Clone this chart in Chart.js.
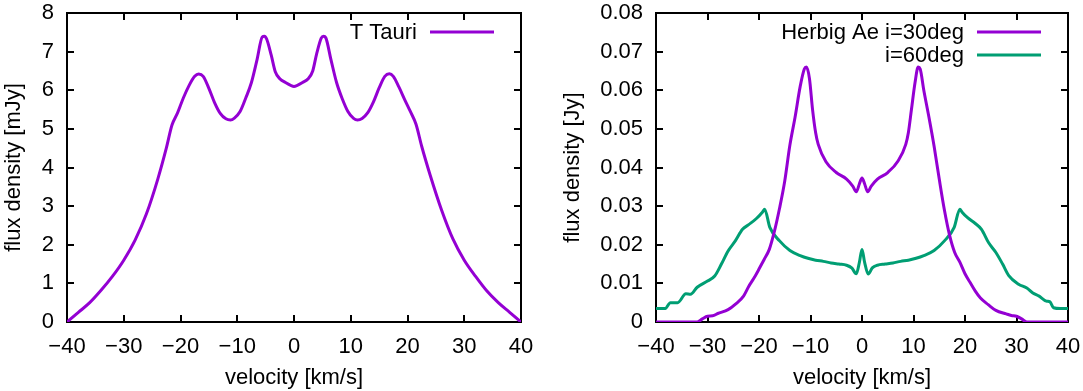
<!DOCTYPE html>
<html>
<head>
<meta charset="utf-8">
<script src="https://cdn.jsdelivr.net/npm/chart.js@4.4.0/dist/chart.umd.min.js"></script>
<style>
  html, body { margin: 0; padding: 0; background: #fff; }
  .row { display: flex; width: 1083px; height: 391px; }
  canvas { display: block; }
</style>
</head>
<body>
<div class="row">
  <canvas id="tTauriChart" width="540" height="391"></canvas>
  <canvas id="herbigChart" width="543" height="391"></canvas>
</div>
<script>
// velocity grid + flux values
const tTauriVel = [-40, -38, -36, -34, -32, -30, -28, -26, -24, -22.5, -21.5, -20.5, -19.5, -18.5, -17.5, -16.8, -16, -15, -14, -13, -12, -11.2, -10.5, -9.5, -8.5, -7.5, -6.5, -5.6, -5.2, -4.8, -4, -3.3, -2.5, -1.5, -0.5, 0,
  0.5, 1.5, 2.5, 3.3, 4, 4.8, 5.2, 5.6, 6.5, 7.5, 8.5, 9.5, 10.5, 11.2, 12, 13, 14, 15, 16, 16.8, 17.5, 18.5, 19.5, 20.5, 21.5, 22.5, 24, 26, 28, 30, 32, 34, 36, 38, 40];
const tTauriFlux = [0, 0.25, 0.5, 0.82, 1.18, 1.6, 2.12, 2.8, 3.7, 4.5, 5.1, 5.42, 5.8, 6.12, 6.36, 6.42, 6.36, 6.05, 5.68, 5.4, 5.26, 5.23, 5.28, 5.45, 5.8, 6.2, 6.8, 7.38, 7.4, 7.32, 6.9, 6.48, 6.3, 6.2, 6.12, 6.1,
  6.12, 6.2, 6.3, 6.5, 6.95, 7.35, 7.4, 7.36, 6.8, 6.2, 5.78, 5.45, 5.27, 5.23, 5.27, 5.42, 5.7, 6.06, 6.36, 6.43, 6.36, 6.08, 5.76, 5.45, 5.12, 4.55, 3.8, 2.9, 2.15, 1.6, 1.18, 0.8, 0.5, 0.25, 0];

const herbig30Vel = [-40, -35, -32, -31, -30, -29, -28, -26, -24.5, -23, -22, -21, -20, -19, -18, -17, -16, -15, -14, -13, -12, -11.2, -10.8, -10.2, -9.6, -9, -8.5, -7, -5, -3, -1.8, -1.1, -0.5, 0,
  0.5, 1.1, 1.8, 3, 5, 7, 8.5, 9, 9.6, 10.3, 10.9, 11.3, 12, 13, 14, 15, 16, 17, 18, 19, 20, 21, 22, 23, 24.5, 26, 28, 29, 30, 31, 32, 35, 40];
const herbig30Flux = [0, 0, 0, 0.0008, 0.0015, 0.0016, 0.0022, 0.0032, 0.0047, 0.0067, 0.0092, 0.0113, 0.0137, 0.0162, 0.0188, 0.0235, 0.0295, 0.0365, 0.0458, 0.053, 0.061, 0.0655, 0.066, 0.063, 0.055, 0.049, 0.046, 0.0415, 0.0387, 0.037, 0.0352, 0.0337, 0.0358, 0.0373,
  0.0358, 0.0337, 0.0352, 0.037, 0.0387, 0.0417, 0.046, 0.049, 0.055, 0.062, 0.066, 0.0655, 0.06, 0.053, 0.0455, 0.037, 0.029, 0.0225, 0.018, 0.0155, 0.0125, 0.0102, 0.008, 0.0062, 0.0045, 0.003, 0.0021, 0.0017, 0.0015, 0.0008, 0, 0, 0];

const herbig60Vel = [-40, -38.2, -37.2, -35.8, -34.2, -33.3, -32, -30, -28.6, -27.3, -26, -24.6, -23.2, -22, -20.5, -19.3, -18.9, -17.9, -16, -14, -12, -10.5, -9, -7.5, -6, -4.5, -3, -2, -1.1, -0.5, 0,
  0.5, 1.2, 2, 3, 4.5, 6, 7.5, 9, 10.5, 12, 14, 16, 17.9, 19, 19.4, 20.5, 22, 23.2, 24.6, 26, 27.3, 28.5, 30.4, 32, 33.1, 34.4, 35.8, 36.5, 37.2, 38.5, 40];
const herbig60Flux = [0.0035, 0.0035, 0.005, 0.005, 0.0073, 0.0072, 0.009, 0.0106, 0.0119, 0.015, 0.0184, 0.021, 0.024, 0.0252, 0.0268, 0.0285, 0.0292, 0.0245, 0.021, 0.0185, 0.0172, 0.0165, 0.016, 0.0157, 0.0153, 0.015, 0.0147, 0.014, 0.0125, 0.0155, 0.0188,
  0.0155, 0.0124, 0.014, 0.0147, 0.015, 0.0153, 0.0157, 0.016, 0.0165, 0.0172, 0.0185, 0.021, 0.0245, 0.0292, 0.0285, 0.027, 0.0255, 0.024, 0.0205, 0.018, 0.015, 0.012, 0.0098, 0.0088, 0.0076, 0.0067, 0.0054, 0.0052, 0.0037, 0.0035, 0.0035];

const velTicks = [-40, -30, -20, -10, 0, 10, 20, 30, 40];
const mJyTicks = [0, 1, 2, 3, 4, 5, 6, 7, 8];
const jyTicks = [0, 0.01, 0.02, 0.03, 0.04, 0.05, 0.06, 0.07, 0.08];
const jyTickLabels = ['0', '0.01', '0.02', '0.03', '0.04', '0.05', '0.06', '0.07', '0.08'];

const purple = '#9400d3';
const green = '#009e73';
const FONT = 'Liberation Sans, Arial, Helvetica, sans-serif';
const fontSize = 22;

function pts(xs, ys) {
  return xs.map((x, i) => ({x: x, y: ys[i]}));
}

// gnuplot style frame with inward ticks on all four sides
const framePlugin = {
  id: 'frame',
  beforeDatasetsDraw(chart) {
    const {ctx, chartArea: a, scales} = chart;
    const len = 7;
    ctx.save();
    ctx.strokeStyle = '#000';
    ctx.lineWidth = 2;
    ctx.beginPath();
    scales.x.ticks.forEach(t => {
      const px = Math.round(scales.x.getPixelForValue(t.value));
      ctx.moveTo(px, a.bottom); ctx.lineTo(px, a.bottom - len);
      ctx.moveTo(px, a.top); ctx.lineTo(px, a.top + len);
    });
    scales.y.ticks.forEach(t => {
      const py = Math.round(scales.y.getPixelForValue(t.value));
      ctx.moveTo(a.left, py); ctx.lineTo(a.left + len, py);
      ctx.moveTo(a.right, py); ctx.lineTo(a.right - len, py);
    });
    ctx.stroke();
    ctx.strokeRect(a.left, a.top, a.right - a.left, a.bottom - a.top);
    ctx.restore();
  }
};

// key: text on the left, line sample on the right (top right corner)
const keyPlugin = {
  id: 'key',
  afterDatasetsDraw(chart) {
    const {ctx, chartArea: a} = chart;
    ctx.save();
    ctx.font = fontSize + 'px ' + FONT;
    ctx.textAlign = 'right';
    ctx.textBaseline = 'middle';
    chart.data.datasets.forEach((ds, i) => {
      const y = a.top + 19 + i * 23;
      ctx.fillStyle = '#000';
      ctx.fillText(ds.label, a.right - 104, y + 1);
      ctx.strokeStyle = ds.borderColor;
      ctx.lineWidth = 3;
      ctx.beginPath();
      ctx.moveTo(a.right - 91, y);
      ctx.lineTo(a.right - 27, y);
      ctx.stroke();
    });
    ctx.restore();
  }
};

function minus(v) {
  return String(v).replace('-', '\u2212');
}

function makeChart(id, datasets, yMax, yTicks, yLabel, yFmt, yWidth, yTitlePad, rightPad) {
  const ctx = document.getElementById(id).getContext('2d');
  return new Chart(ctx, {
    type: 'line',
    data: {datasets: datasets},
    plugins: [framePlugin, keyPlugin],
    options: {
      responsive: false,
      animation: false,
      devicePixelRatio: 1,
      layout: {padding: {top: 13, right: rightPad, left: 0, bottom: 0}},
      plugins: {legend: {display: false}, tooltip: {enabled: false}},
      elements: {point: {radius: 0}},
      scales: {
        x: {
          type: 'linear',
          min: -40, max: 40,
          afterBuildTicks: s => { s.ticks = velTicks.map(v => ({value: v})); },
          afterFit: s => { s.height = 69; s.paddingLeft = 0; s.paddingRight = 0; },
          grid: {display: false, drawTicks: false},
          border: {display: false},
          ticks: {color: '#000', padding: 12, maxRotation: 0, font: {family: FONT, size: fontSize}, callback: v => minus(v)},
          title: {display: true, text: 'velocity [km/s]', color: '#000', padding: 0, font: {family: FONT, size: fontSize}}
        },
        y: {
          type: 'linear',
          min: 0, max: yMax,
          afterBuildTicks: s => { s.ticks = yTicks.map(v => ({value: v})); },
          afterFit: s => { s.width = yWidth; s.paddingTop = 0; s.paddingBottom = 0; },
          grid: {display: false, drawTicks: false},
          border: {display: false},
          ticks: {color: '#000', padding: 13, font: {family: FONT, size: fontSize}, callback: yFmt},
          title: {display: true, text: yLabel, color: '#000', padding: {top: yTitlePad, bottom: 0}, font: {family: FONT, size: fontSize}}
        }
      }
    }
  });
}

makeChart('tTauriChart', [{
  label: 'T Tauri',
  data: pts(tTauriVel, tTauriFlux),
  borderColor: purple,
  borderWidth: 3,
  cubicInterpolationMode: 'monotone',
  fill: false
}], 8, mJyTicks, 'flux density [mJy]', v => String(v), 67, 1, 19);

makeChart('herbigChart', [{
  label: 'Herbig Ae i=30deg',
  data: pts(herbig30Vel, herbig30Flux),
  borderColor: purple,
  borderWidth: 3,
  cubicInterpolationMode: 'monotone',
  fill: false
}, {
  label: 'i=60deg',
  data: pts(herbig60Vel, herbig60Flux),
  borderColor: green,
  borderWidth: 3,
  cubicInterpolationMode: 'monotone',
  fill: false
}], 0.08, jyTicks, 'flux density [Jy]', (v, i) => jyTickLabels[i], 116, 20, 15);
</script>
</body>
</html>
